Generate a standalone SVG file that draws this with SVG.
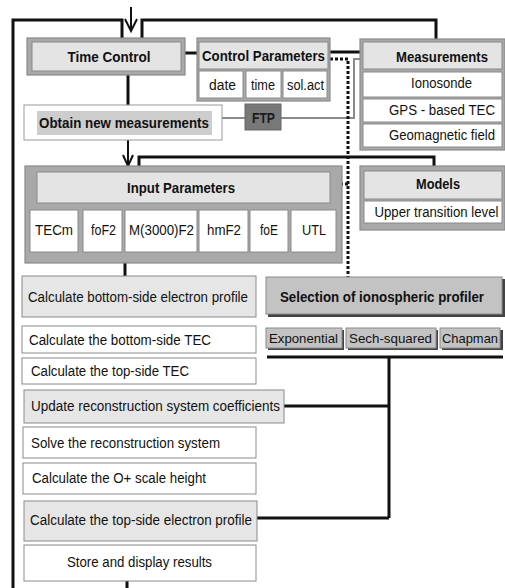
<svg xmlns="http://www.w3.org/2000/svg" width="505" height="588" viewBox="0 0 505 588">
<style>
text{font-family:"Liberation Sans",Arial,sans-serif;font-size:15.5px;fill:#111;}
.b{font-weight:bold;}
.m{text-anchor:middle;}
.s{font-size:14px;}
.xs{font-size:13.5px;}
.outer{fill:#a9a9a9;stroke:#8a8a8a;stroke-width:1.2;}
.hdr{fill:#e4e4e4;stroke:#8a8a8a;stroke-width:1;}
.cell{fill:#fff;stroke:#8a8a8a;stroke-width:1;}
.lt{fill:#e6e6e6;stroke:#8a8a8a;stroke-width:1;}
.sel{fill:#c3c3c3;stroke:#8a8a8a;stroke-width:1;}
.shd{fill:#444;}
.k{stroke:#111;stroke-width:3;fill:none;}
.g{stroke:#8a8a8a;stroke-width:2;fill:none;}
.d{stroke:#111;stroke-width:3;fill:none;stroke-dasharray:3 2;}
.a{stroke:#111;stroke-width:2;fill:none;}
</style>
<rect width="505" height="588" fill="#fff"/>
<g id="connectors">
<path class="k" d="M13,588 V20 H122 V38"/>
<path class="k" d="M142,38 V20 H436 V39"/>
<path class="a" d="M131,7 V31 M125,19 L131,31 L137,19"/>
<path class="k" d="M185,53 H197"/>
<path class="k" d="M128,75 V105"/>
<path class="g" d="M222,118 H245"/>
<path class="g" d="M281,118 H354 V59 H360"/>
<path class="k" d="M330,52 H360"/>
<path class="d" d="M330,59 H348 V277"/>
<path class="d" d="M348,184 H342"/>
<path class="a" d="M128,140 V166 M123,155 L128,166 L133,155"/>
<path class="k" d="M139,166 V157 H434 V166"/>
<path class="k" d="M125,263 V276"/>
<path class="k" d="M267,357 H503 M389,357 V518 M284,406 H389 M257,518 H389"/>
<path class="k" d="M127,581 V588"/>
</g>
<g id="time-control">
<rect class="outer" x="27" y="38" width="158" height="37"/>
<rect class="hdr" x="32" y="42" width="149" height="29"/>
<text class="b m" x="109" y="62" textLength="83" lengthAdjust="spacingAndGlyphs">Time Control</text>
</g>
<g id="control-parameters">
<rect class="outer" x="197" y="38" width="133" height="63"/>
<rect class="hdr" x="199" y="42" width="129" height="27"/>
<text class="b m s" x="263.5" y="61" textLength="123" lengthAdjust="spacingAndGlyphs">Control Parameters</text>
<rect class="cell" x="199" y="71" width="44" height="27"/>
<rect class="cell" x="246" y="71" width="35" height="27"/>
<rect class="cell" x="283" y="71" width="44" height="27"/>
<text class="m" x="222.5" y="90" textLength="27" lengthAdjust="spacingAndGlyphs">date</text>
<text class="m" x="263" y="90" textLength="24" lengthAdjust="spacingAndGlyphs">time</text>
<text class="m" x="305.5" y="90" textLength="37" lengthAdjust="spacingAndGlyphs">sol.act</text>
</g>
<g id="ftp">
<rect x="245" y="104" width="36" height="26" fill="#787878" stroke="#666" stroke-width="1"/>
<text class="b m" x="263.5" y="123" textLength="23" lengthAdjust="spacingAndGlyphs" style="fill:#1a1a1a">FTP</text>
</g>
<g id="obtain-new-measurements">
<rect x="24" y="105" width="198" height="35" fill="#fff" stroke="#999" stroke-width="1"/>
<rect x="37" y="111" width="175" height="24" fill="#cdcdcd"/>
<text class="b" x="39" y="128" textLength="170" lengthAdjust="spacingAndGlyphs">Obtain new measurements</text>
</g>
<g id="measurements">
<rect class="outer" x="360" y="39" width="145" height="111"/>
<rect class="hdr" x="363" y="42" width="139" height="27"/>
<text class="b m" x="442" y="62" textLength="92" lengthAdjust="spacingAndGlyphs">Measurements</text>
<rect class="cell" x="363" y="72" width="139" height="25"/>
<rect class="cell" x="363" y="99" width="139" height="23"/>
<rect class="cell" x="363" y="124" width="139" height="23"/>
<text class="m" x="441.5" y="88" textLength="61" lengthAdjust="spacingAndGlyphs">Ionosonde</text>
<text class="m s" x="442" y="115" textLength="106" lengthAdjust="spacingAndGlyphs">GPS - based TEC</text>
<text class="m s" x="442" y="140" textLength="106" lengthAdjust="spacingAndGlyphs">Geomagnetic field</text>
</g>
<g id="input-parameters">
<rect class="outer" x="25" y="166" width="317" height="97"/>
<rect class="hdr" x="37" y="172" width="293" height="31"/>
<text class="b m" x="181" y="193" textLength="108" lengthAdjust="spacingAndGlyphs">Input Parameters</text>
<rect class="cell" x="30" y="210" width="48" height="42"/>
<rect class="cell" x="83" y="210" width="39" height="42"/>
<rect class="cell" x="125" y="210" width="72" height="42"/>
<rect class="cell" x="199" y="210" width="49" height="42"/>
<rect class="cell" x="250" y="210" width="38" height="42"/>
<rect class="cell" x="291" y="210" width="45" height="42"/>
<text class="m" x="54" y="235" textLength="38" lengthAdjust="spacingAndGlyphs">TECm</text>
<text class="m" x="103.5" y="235" textLength="25" lengthAdjust="spacingAndGlyphs">foF2</text>
<text class="m" x="161.5" y="235" textLength="65" lengthAdjust="spacingAndGlyphs">M(3000)F2</text>
<text class="m" x="224" y="235" textLength="34" lengthAdjust="spacingAndGlyphs">hmF2</text>
<text class="m" x="269" y="235" textLength="18" lengthAdjust="spacingAndGlyphs">foE</text>
<text class="m" x="314" y="235" textLength="24" lengthAdjust="spacingAndGlyphs">UTL</text>
</g>
<g id="models">
<rect class="outer" x="360" y="166" width="145" height="64"/>
<rect class="hdr" x="364" y="171" width="138" height="28"/>
<text class="b m" x="438" y="189" textLength="44" lengthAdjust="spacingAndGlyphs">Models</text>
<rect class="cell" x="364" y="201" width="138" height="22"/>
<text class="m s" x="436.5" y="217" textLength="124" lengthAdjust="spacingAndGlyphs">Upper transition level</text>
</g>
<g id="calc-bottom-profile">
<rect class="lt" x="22" y="276" width="234" height="41"/>
<text x="28" y="302" textLength="220" lengthAdjust="spacingAndGlyphs">Calculate bottom-side electron profile</text>
</g>
<g id="calc-bottom-tec">
<rect class="cell" x="22" y="326" width="234" height="27"/>
<text x="29" y="345" textLength="182" lengthAdjust="spacingAndGlyphs">Calculate the bottom-side TEC</text>
</g>
<g id="calc-top-tec">
<rect class="cell" x="22" y="358" width="234" height="26"/>
<text x="31" y="376" textLength="158" lengthAdjust="spacingAndGlyphs">Calculate the top-side TEC</text>
</g>
<g id="update-coefficients">
<rect class="lt" x="24" y="390" width="260" height="33"/>
<text x="31" y="411" textLength="249" lengthAdjust="spacingAndGlyphs">Update reconstruction system coefficients</text>
</g>
<g id="solve-system">
<rect class="cell" x="23" y="427" width="233" height="31"/>
<text x="31" y="448" textLength="189" lengthAdjust="spacingAndGlyphs">Solve the reconstruction system</text>
</g>
<g id="scale-height">
<rect class="cell" x="23" y="463" width="233" height="31"/>
<text x="32" y="483" textLength="174" lengthAdjust="spacingAndGlyphs">Calculate the O+ scale height</text>
</g>
<g id="calc-top-profile">
<rect class="lt" x="24" y="501" width="233" height="40"/>
<text x="30" y="525" textLength="222" lengthAdjust="spacingAndGlyphs">Calculate the top-side electron profile</text>
</g>
<g id="store-display">
<rect class="cell" x="24" y="545" width="232" height="36"/>
<text class="m" x="139.5" y="567" textLength="145" lengthAdjust="spacingAndGlyphs">Store and display results</text>
</g>
<g id="profiler-selection">
<rect class="shd" x="268" y="279" width="237" height="38"/>
<rect class="sel" x="266" y="277" width="236" height="37"/>
<text class="b m s" x="382" y="302" textLength="204" lengthAdjust="spacingAndGlyphs">Selection of ionospheric profiler</text>
</g>
<g id="exponential">
<rect class="shd" x="268" y="330" width="76" height="20"/>
<rect class="sel" x="266" y="328" width="76" height="20"/>
<text class="m xs" x="303.5" y="343" textLength="69" lengthAdjust="spacingAndGlyphs">Exponential</text>
</g>
<g id="sech-squared">
<rect class="shd" x="348" y="330" width="90" height="20"/>
<rect class="sel" x="346" y="328" width="90" height="20"/>
<text class="m xs" x="390.5" y="343" textLength="83" lengthAdjust="spacingAndGlyphs">Sech-squared</text>
</g>
<g id="chapman">
<rect class="shd" x="442" y="330" width="61" height="20"/>
<rect class="sel" x="440" y="328" width="60" height="20"/>
<text class="m" x="470" y="343" style="font-size:13px" textLength="56" lengthAdjust="spacingAndGlyphs">Chapman</text>
</g>
</svg>
